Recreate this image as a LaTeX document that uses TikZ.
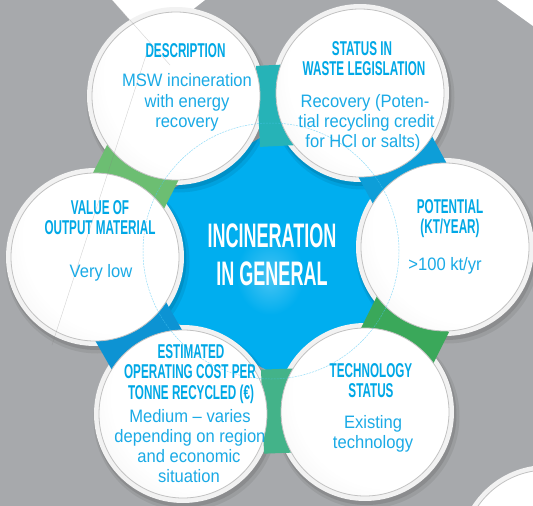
\documentclass[tikz,border=0pt]{standalone}
\usepackage{fontspec}
\setmainfont{Liberation Sans}
\newfontfamily\hdfont{Liberation Sans}[FakeStretch=0.585]
\newfontfamily\ctfont{Liberation Sans}[FakeStretch=0.53]
\newfontfamily\bdfont{Liberation Sans}[FakeStretch=0.92]
\usetikzlibrary{calc}
\definecolor{bg}{HTML}{A7A9AC}
\definecolor{core}{HTML}{00AEEF}
\definecolor{corehi}{HTML}{48C4F3}
\definecolor{hdblue}{HTML}{00A8E6}
\definecolor{bdblue}{HTML}{1AAAE6}
\definecolor{rimc}{HTML}{F2F2F2}
\definecolor{ringc}{HTML}{C2C2C2}
\definecolor{diskedge}{HTML}{DCDCDC}
\definecolor{cTop}{HTML}{26B3B7}
\definecolor{cUR}{HTML}{0D9ED8}
\definecolor{cLR}{HTML}{3AA85A}
\definecolor{cBot}{HTML}{43B389}
\definecolor{cLL}{HTML}{0D93D3}
\definecolor{cUL}{HTML}{6CBE72}
\pgfdeclareradialshading{disk}{\pgfpoint{10bp}{8bp}}{color(0bp)=(white); color(28bp)=(white); color(62bp)=(diskedge); color(90bp)=(diskedge)}
\pgfdeclareradialshading{corelight}{\pgfpoint{0bp}{-5bp}}{color(0bp)=(corehi); color(8bp)=(core); color(80bp)=(core)}
\tikzset{
  hd/.style={font=\hdfont\bfseries\fontsize{20}{20}\selectfont, text=hdblue, anchor=base, inner sep=0pt},
  bd/.style={font=\bdfont\fontsize{18}{20}\selectfont, text=bdblue, anchor=base, inner sep=0pt},
  ct/.style={font=\ctfont\bfseries\fontsize{34}{36}\selectfont, text=white, anchor=base, inner sep=0pt},
  faint/.style={draw=gray, opacity=0.35, line width=0.4pt},
  ringline/.style={draw=ringc, line width=0.8pt}
}
\begin{document}
\begin{tikzpicture}[x=1pt,y=-1pt]
\useasboundingbox (0,0) rectangle (533,506);
\fill[bg] (0,0) rectangle (533,506);
% white background shapes
\fill[white] (112,0) -- (205,0) -- (150,43) -- cycle;
\fill[white] (497,0) -- (533,0) -- (533,26) -- cycle;
% circle centres
\coordinate (D) at (176,96);
\coordinate (S) at (360,93);
\coordinate (P) at (445,247);
\coordinate (T) at (365,412);
\coordinate (E) at (183,414);
\coordinate (V) at (95,257);
\coordinate (N) at (547,554);
% central star
\shade[shading=corelight] (277,128) -- (376,190) -- (376,316) -- (280,377) -- (164,316) -- (164,194) -- cycle;
% shadows
\foreach \c in {D,S,P,T,E,V,N} {
  \fill[black,opacity=0.07] ($(\c)+(2.5,4.5)$) circle (92pt);
  \fill[black,opacity=0.10] ($(\c)+(1.5,3)$) circle (90pt);
}
% rims
\foreach \c in {D,S,P,T,E,V,N} \fill[rimc] (\c) circle (89pt);
% connector ends
\coordinate (c1i) at (278,146); \coordinate (c1o) at (274,65);
\coordinate (c2i) at (366,191); \coordinate (c2o) at (440,151);
\coordinate (c3i) at (369,312); \coordinate (c3o) at (441,348);
\coordinate (c4i) at (279,369); \coordinate (c4o) at (282,453);
\coordinate (c5i) at (174,316); \coordinate (c5o) at (104,356);
\coordinate (c6i) at (171,195); \coordinate (c6o) at (100,159);
\foreach \a/\b/\col in {c1i/c1o/cTop, c2i/c2o/cUR, c3i/c3o/cLR, c4i/c4o/cBot, c5i/c5o/cLL, c6i/c6o/cUL}
  \fill[\col] ($(\a)!18pt!90:(\b)$) -- ($(\a)!18pt!-90:(\b)$) -- ($(\b)!18pt!90:(\a)$) -- ($(\b)!18pt!-90:(\a)$) -- cycle;
% inner disks
\foreach \c in {D,S,P,T,E,V,N} {
  \shade[shading=disk] (\c) circle (84pt);
  \draw[ringline] (\c) circle (84pt);
}
% faint lines
\draw[faint] (112,0) -- (170,65);
\draw[faint] (150,43) -- (52,345);
\draw[core!70, line width=0.5pt, dash pattern=on 2pt off 1pt, opacity=0.6] (271,251) circle (128pt);
% centre text
\node[ct] (ct1) at (272,247) {INCINERATION};
\node[ct] (ct2) at (272,285) {IN GENERAL};
% description
\node[hd] (dh1) at (185.5,57) {DESCRIPTION};
\node[bd] (db1) at (187,86) {MSW incineration};
\node[bd] (db2) at (187,107) {with energy};
\node[bd] (db3) at (187,127.5) {recovery};
% status
\node[hd] (sh1) at (362,55) {STATUS IN};
\node[hd] (sh2) at (364,75) {WASTE LEGISLATION};
\node[bd] (sb1) at (365,107) {Recovery (Poten-};
\node[bd] (sb2) at (366.5,127) {tial recycling credit};
\node[bd] (sb3) at (363,147) {for HCl or salts)};
% potential
\node[hd] (ph1) at (450,213) {POTENTIAL};
\node[hd] (ph2) at (450,233) {(KT/YEAR)};
\node[bd] (pb1) at (445,270) {>100 kt/yr};
% technology
\node[hd] (th1) at (371,377) {TECHNOLOGY};
\node[hd] (th2) at (371,397) {STATUS};
\node[bd] (tb1) at (373,428) {Existing};
\node[bd] (tb2) at (373,448) {technology};
% estimated
\node[hd] (eh1) at (191,358) {ESTIMATED};
\node[hd] (eh2) at (190,378) {OPERATING COST PER};
\node[hd] (eh3) at (191,399) {TONNE RECYCLED (€)};
\node[bd] (eb1) at (190,422) {Medium – varies};
\node[bd] (eb2) at (190,442) {depending on region};
\node[bd] (eb3) at (189,462) {and economic};
\node[bd] (eb4) at (189,482) {situation};
% value
\node[hd] (vh1) at (100,214) {VALUE OF};
\node[hd] (vh2) at (100,234) {OUTPUT MATERIAL};
\node[bd] (vb1) at (101,277) {Very low};
\end{tikzpicture}
\end{document}
